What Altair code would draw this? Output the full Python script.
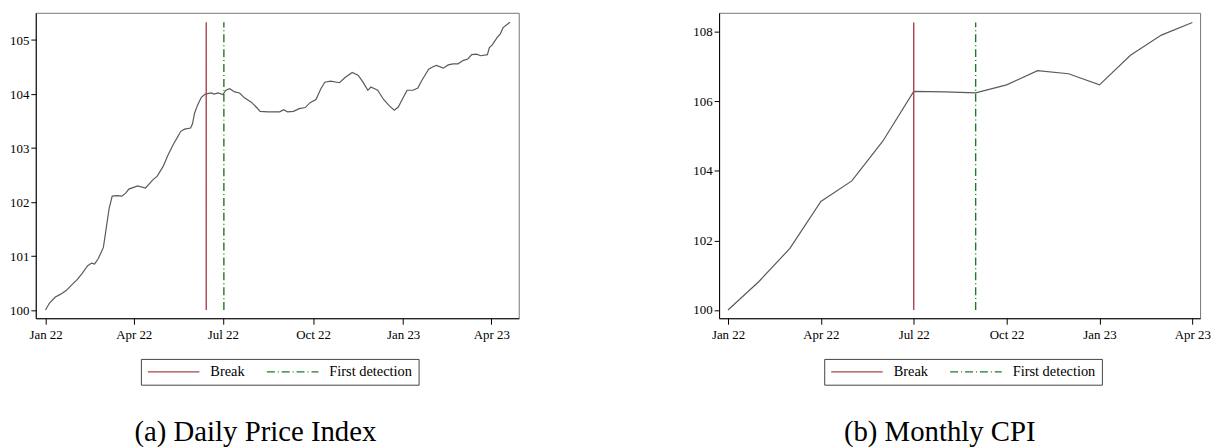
import altair as alt
import pandas as pd

# ---------------- data ----------------
daily_dates = [
    "2022-01-01", "2022-01-05", "2022-01-11", "2022-01-16", "2022-01-22", "2022-01-28",
    "2022-02-02", "2022-02-07", "2022-02-13", "2022-02-17", "2022-02-20", "2022-02-24",
    "2022-03-01", "2022-03-03", "2022-03-05", "2022-03-07", "2022-03-10", "2022-03-15",
    "2022-03-20", "2022-03-24", "2022-03-27", "2022-04-05", "2022-04-13", "2022-04-21",
    "2022-04-25", "2022-05-01", "2022-05-06", "2022-05-12", "2022-05-15", "2022-05-19",
    "2022-05-23", "2022-05-29", "2022-05-31", "2022-06-02", "2022-06-05", "2022-06-09",
    "2022-06-13", "2022-06-19", "2022-06-22", "2022-06-26", "2022-07-01", "2022-07-04",
    "2022-07-08", "2022-07-13", "2022-07-18", "2022-07-23", "2022-07-30", "2022-08-04",
    "2022-08-08", "2022-08-16", "2022-08-25", "2022-08-28", "2022-09-01", "2022-09-05",
    "2022-09-11", "2022-09-17", "2022-09-23", "2022-09-28", "2022-10-04", "2022-10-09",
    "2022-10-13", "2022-10-19", "2022-10-28", "2022-11-03", "2022-11-10", "2022-11-16",
    "2022-11-21", "2022-11-26", "2022-11-29", "2022-12-06", "2022-12-12", "2022-12-18",
    "2022-12-23", "2022-12-27", "2023-01-01", "2023-01-05", "2023-01-11", "2023-01-16",
    "2023-01-20", "2023-01-23", "2023-01-27", "2023-02-01", "2023-02-04", "2023-02-11",
    "2023-02-16", "2023-02-21", "2023-02-26", "2023-03-03", "2023-03-08", "2023-03-12",
    "2023-03-17", "2023-03-21", "2023-03-28", "2023-03-30", "2023-04-02", "2023-04-07",
    "2023-04-10", "2023-04-13", "2023-04-20",
]
daily_values = [
    100.00, 100.13, 100.24, 100.29, 100.36, 100.47,
    100.56, 100.67, 100.82, 100.87, 100.85, 100.96,
    101.16, 101.40, 101.65, 101.89, 102.11, 102.12,
    102.11, 102.17, 102.24, 102.30, 102.26, 102.42,
    102.48, 102.66, 102.87, 103.09, 103.18, 103.31,
    103.35, 103.37, 103.45, 103.64, 103.79, 103.94,
    104.00, 104.02, 104.00, 104.02, 103.99, 104.07,
    104.10, 104.04, 104.02, 103.93, 103.85, 103.76,
    103.68, 103.67, 103.67, 103.67, 103.71, 103.67,
    103.68, 103.73, 103.75, 103.84, 103.90, 104.10,
    104.22, 104.24, 104.21, 104.31, 104.40, 104.35,
    104.22, 104.07, 104.13, 104.07, 103.90, 103.78,
    103.70, 103.76, 103.93, 104.07, 104.07, 104.11,
    104.25, 104.34, 104.46, 104.51, 104.53, 104.48,
    104.54, 104.56, 104.56, 104.62, 104.65, 104.73,
    104.74, 104.71, 104.73, 104.86, 104.91, 105.05,
    105.11, 105.23, 105.33,
]

monthly_labels = [
    "2022-01", "2022-02", "2022-03", "2022-04", "2022-05", "2022-06", "2022-07", "2022-08",
    "2022-09", "2022-10", "2022-11", "2022-12", "2023-01", "2023-02", "2023-03", "2023-04",
]
monthly_values = [
    100.00, 100.82, 101.77, 103.12, 103.71, 104.85, 106.28, 106.27,
    106.24, 106.47, 106.88, 106.79, 106.47, 107.32, 107.90, 108.26,
]

quarter_labels = ["Jan 22", "Apr 22", "Jul 22", "Oct 22", "Jan 23", "Apr 23"]
event_names = ["Break", "First detection"]
daily_events = ["2022-06-14", "2022-07-02"]
monthly_events = ["2022-07", "2022-09"]
captions = ["(a) Daily Price Index", "(b) Monthly CPI"]

# ---------------- styling ----------------
SERIF = "Liberation Serif"
LINE_COLOR = "#5a5a5a"
EVENT_COLORS = ["#a8424c", "#1e7b1e"]
EVENT_DASHES = [[1, 0], [8, 3, 1, 3]]

daily_df = pd.DataFrame({"date": daily_dates, "value": daily_values})
monthly_df = pd.DataFrame({
    "month": list(range(len(monthly_labels))),
    "value": monthly_values,
})

d_lo, d_hi = min(daily_values), max(daily_values)
m_lo, m_hi = min(monthly_values), max(monthly_values)

daily_ev = pd.DataFrame({
    "date": daily_events, "kind": event_names,
    "y": [d_lo, d_lo], "y2": [d_hi, d_hi],
})
monthly_ev = pd.DataFrame({
    "month": [monthly_labels.index(m) for m in monthly_events], "kind": event_names,
    "y": [m_lo, m_lo], "y2": [m_hi, m_hi],
})


def legend(lx, ly):
    return alt.Legend(
        title=None, orient="none", legendX=lx, legendY=ly, direction="horizontal",
        symbolType="stroke", symbolSize=2704, symbolStrokeWidth=1.3,
        labelFont=SERIF, labelFontSize=14.5, labelColor="black",
        labelOffset=10, columnPadding=21, padding=6, clipHeight=14,
        strokeColor="#444444", fillColor="white",
    )


def event_enc(lx, ly):
    return dict(
        color=alt.Color("kind:N", scale=alt.Scale(domain=event_names, range=EVENT_COLORS),
                        legend=legend(lx, ly)),
        strokeDash=alt.StrokeDash("kind:N", scale=alt.Scale(domain=event_names, range=EVENT_DASHES),
                                  legend=legend(lx, ly)),
    )


def title(text, dx):
    return alt.TitleParams(
        text=text, orient="bottom", anchor="middle", dx=dx, offset=33,
        font=SERIF, fontSize=29, fontWeight="normal", color="black",
    )


# ---------------- left panel ----------------
ticks_daily = [alt.DateTime(year=int(q[-2:]) + 2000, month=m, date=1, utc=True)
               for q, m in zip(quarter_labels, [1, 4, 7, 10, 1, 4])]

x_daily_scale = alt.Scale(
    type="utc",
    domain=[alt.DateTime(year=2021, month=12, date=22, utc=True),
            alt.DateTime(year=2023, month=4, date=29, utc=True)],
    nice=False,
)
y_daily_scale = alt.Scale(domain=[99.848, 105.505], nice=False, zero=False)

x_daily_axis = alt.Axis(values=ticks_daily, labelExpr="utcFormat(datum.value, '%b %y')",
                        title=None)
y_daily_axis = alt.Axis(values=[100, 101, 102, 103, 104, 105], title=None)

left_line = alt.Chart(daily_df).mark_line(color=LINE_COLOR, strokeWidth=1.2).encode(
    x=alt.X("date:T", scale=x_daily_scale, axis=x_daily_axis),
    y=alt.Y("value:Q", scale=y_daily_scale, axis=y_daily_axis),
)
left_rules = alt.Chart(daily_ev).mark_rule(strokeWidth=1.4).encode(
    x=alt.X("date:T", scale=x_daily_scale, axis=x_daily_axis),
    y=alt.Y("y:Q", scale=y_daily_scale, axis=y_daily_axis),
    y2="y2:Q",
    **event_enc(106, 349),
)
left = alt.layer(left_line, left_rules).properties(
    width=487, height=308, title=title(captions[0], -22)
)

# ---------------- right panel ----------------
label_arr = "[" + ",".join("'" + q + "'" for q in quarter_labels) + "]"
x_month_scale = alt.Scale(domain=[-0.288, 15.25], nice=False, zero=False)
y_month_scale = alt.Scale(domain=[99.763, 108.541], nice=False, zero=False)
x_month_axis = alt.Axis(values=[0, 3, 6, 9, 12, 15], labelExpr=label_arr + "[datum.value / 3]",
                        title=None)
y_month_axis = alt.Axis(values=[100, 102, 104, 106, 108], title=None)

right_line = alt.Chart(monthly_df).mark_line(color=LINE_COLOR, strokeWidth=1.2).encode(
    x=alt.X("month:Q", scale=x_month_scale, axis=x_month_axis),
    y=alt.Y("value:Q", scale=y_month_scale, axis=y_month_axis),
)
right_rules = alt.Chart(monthly_ev).mark_rule(strokeWidth=1.4).encode(
    x=alt.X("month:Q", scale=x_month_scale, axis=x_month_axis),
    y=alt.Y("y:Q", scale=y_month_scale, axis=y_month_axis),
    y2="y2:Q",
    **event_enc(106, 349),
)
right = alt.layer(right_line, right_rules).properties(
    width=485, height=308, title=title(captions[1], -20)
)

chart = alt.hconcat(left, right, spacing=174).resolve_scale(
    color="independent", strokeDash="independent"
).resolve_legend(
    color="independent", strokeDash="independent"
).properties(
    padding={"left": 1, "top": 2, "right": 0, "bottom": 0}
).configure_axis(
    labelFont=SERIF, labelFontSize=13, labelColor="black",
    tickColor="black", domainColor="black", domainWidth=1, grid=False,
).configure_axisX(
    tickSize=6, labelPadding=4
).configure_axisY(
    tickSize=5, labelPadding=2
).configure_view(
    stroke="#777777", strokeWidth=1
)

chart.save("out.html", embed_options={"renderer": "svg", "actions": False})
